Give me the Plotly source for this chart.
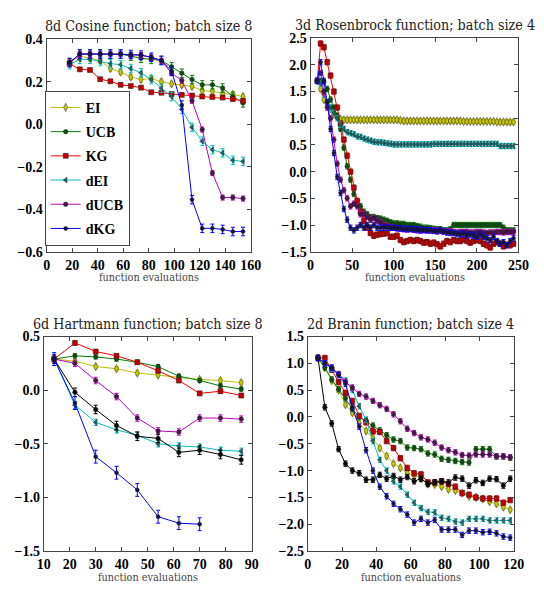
import plotly.graph_objects as go

# ---------------- data ----------------
METHODS = ["EI", "UCB", "KG", "dEI", "dUCB", "dKG"]

# 8d Cosine, batch 8
cos_x = [18, 26, 34, 42, 50, 58, 66, 74, 82, 90, 98, 106, 114, 122, 130, 138, 146, 154]
cos_EI = [0.29, 0.32, 0.31, 0.30, 0.262, 0.245, 0.222, 0.21, 0.215, 0.20, 0.19, 0.185, 0.178, 0.158, 0.155, 0.145, 0.14, 0.13]
cos_UCB = [0.29, 0.33, 0.33, 0.33, 0.33, 0.33, 0.32, 0.31, 0.305, 0.30, 0.27, 0.24, 0.21, 0.185, 0.185, 0.17, 0.13, 0.10]
cos_KG = [0.285, 0.258, 0.255, 0.212, 0.202, 0.185, 0.18, 0.172, 0.15, 0.148, 0.142, 0.138, 0.135, 0.13, 0.128, 0.125, 0.118, 0.11]
cos_dEI = [0.28, 0.305, 0.305, 0.295, 0.285, 0.28, 0.262, 0.242, 0.21, 0.17, 0.13, 0.07, -0.015, -0.08, -0.12, -0.135, -0.17, -0.175]
cos_dUCB = [0.29, 0.33, 0.33, 0.33, 0.33, 0.33, 0.325, 0.325, 0.315, 0.298, 0.24, 0.205, 0.11, -0.025, -0.23, -0.345, -0.345, -0.35]
cos_dKG = [0.29, 0.33, 0.33, 0.33, 0.33, 0.33, 0.328, 0.325, 0.315, 0.30, 0.25, 0.09, -0.355, -0.49, -0.49, -0.495, -0.505, -0.505]
cos_err = [0.012, 0.02, 0.008, 0.02, 0.012, 0.02]

# 3d Rosenbrock, batch 4
ros_x = list(range(8, 245, 4))
ros_EI = [1.70, 1.55, 1.35, 1.28, 1.18, 1.08, 1.02, 0.98, 0.97, 0.97,
          0.97, 0.97, 0.97, 0.97, 0.97, 0.97, 0.97, 0.97, 0.97, 0.97,
          0.97, 0.97, 0.97, 0.97, 0.97, 0.96, 0.95, 0.95, 0.95, 0.95,
          0.95, 0.95, 0.95, 0.95, 0.95, 0.95, 0.95, 0.95, 0.95, 0.95,
          0.95, 0.95, 0.95, 0.95, 0.94, 0.94, 0.94, 0.94, 0.94, 0.94,
          0.94, 0.94, 0.94, 0.94, 0.93, 0.93, 0.93, 0.93, 0.93, 0.93]
ros_UCB = [1.70, 1.70, 1.68, 1.55, 1.35, 1.20, 1.05, 0.80, 0.45, 0.10,
           -0.15, -0.42, -0.55, -0.65, -0.75, -0.80, -0.85, -0.85, -0.87, -0.88,
           -0.90, -0.92, -0.95, -0.97, -0.97, -0.98, -0.98, -1.00, -1.00, -1.00,
           -1.02, -1.03, -1.05, -1.05, -1.06, -1.07, -1.08, -1.08, -1.10, -1.10,
           -1.08, -1.00, -1.00, -1.00, -1.00, -1.00, -1.00, -1.00, -1.00, -1.00,
           -1.00, -1.00, -1.00, -1.00, -1.00, -1.00, -1.05, -1.10, -1.10, -1.10]
ros_KG = [1.70, 2.40, 2.33, 2.05, 1.80, 1.50, 1.20, 0.90, 0.60, 0.30,
          0.00, -0.30, -0.55, -0.75, -0.92, -1.05, -1.15, -1.20, -1.18, -1.17,
          -1.16, -1.15, -1.22, -1.22, -1.20, -1.28, -1.32, -1.30, -1.28, -1.30,
          -1.28, -1.30, -1.33, -1.32, -1.35, -1.33, -1.36, -1.40, -1.35, -1.30,
          -1.32, -1.28, -1.30, -1.30, -1.27, -1.30, -1.33, -1.30, -1.28, -1.30,
          -1.35, -1.38, -1.42, -1.35, -1.32, -1.35, -1.40, -1.37, -1.38, -1.35]
ros_dEI = [1.70, 1.65, 1.45, 1.30, 1.20, 1.10, 1.00, 0.88, 0.80, 0.74,
           0.72, 0.70, 0.66, 0.65, 0.62, 0.60, 0.58, 0.56, 0.55, 0.55,
           0.54, 0.53, 0.52, 0.51, 0.51, 0.51, 0.51, 0.51, 0.51, 0.51,
           0.51, 0.51, 0.51, 0.51, 0.51, 0.52, 0.52, 0.52, 0.52, 0.52,
           0.52, 0.52, 0.52, 0.52, 0.52, 0.52, 0.52, 0.52, 0.52, 0.52,
           0.52, 0.52, 0.52, 0.52, 0.52, 0.48, 0.48, 0.48, 0.48, 0.48]
ros_dUCB = [1.70, 1.85, 1.50, 1.20, 1.00, 0.60, 0.15, -0.15, -0.35, -0.50,
            -0.65, -0.60, -0.65, -0.80, -0.80, -0.85, -0.90, -0.87, -0.92, -0.95,
            -1.00, -1.02, -1.05, -1.05, -1.06, -1.07, -1.08, -1.08, -1.08, -1.09,
            -1.10, -1.10, -1.10, -1.10, -1.10, -1.10, -1.10, -1.11, -1.12, -1.12,
            -1.12, -1.13, -1.14, -1.13, -1.13, -1.13, -1.14, -1.14, -1.13, -1.13,
            -1.14, -1.15, -1.14, -1.14, -1.13, -1.13, -1.14, -1.13, -1.13, -1.13]
ros_dKG = [1.70, 2.05, 1.70, 1.30, 0.80, 0.35, -0.10, -0.40, -0.70, -0.90,
           -1.05, -1.10, -1.05, -1.00, -1.05, -1.00, -1.05, -1.00, -1.05, -1.05,
           -1.05, -1.05, -1.05, -1.05, -1.06, -1.06, -1.07, -1.08, -1.07, -1.08,
           -1.08, -1.10, -1.09, -1.10, -1.10, -1.11, -1.12, -1.10, -1.12, -1.14,
           -1.15, -1.15, -1.17, -1.18, -1.16, -1.20, -1.18, -1.20, -1.22, -1.18,
           -1.22, -1.25, -1.28, -1.22, -1.30, -1.35, -1.32, -1.38, -1.30, -1.25]
ros_err = [0.04, 0.05, 0.05, 0.05, 0.05, 0.05]

# 6d Hartmann, batch 8
har_x = [14, 22, 30, 38, 46, 54, 62, 70, 78, 86]
har_EI = [0.29, 0.27, 0.22, 0.20, 0.16, 0.14, 0.12, 0.10, 0.09, 0.07]
har_UCB = [0.29, 0.32, 0.31, 0.29, 0.26, 0.22, 0.13, 0.09, 0.04, 0.01]
har_KG = [0.29, 0.44, 0.36, 0.32, 0.26, 0.18, 0.09, -0.03, -0.01, -0.05]
har_dEI = [0.29, -0.14, -0.30, -0.37, -0.42, -0.50, -0.52, -0.53, -0.56, -0.57]
har_dUCB = [0.29, 0.25, 0.09, -0.06, -0.26, -0.38, -0.39, -0.26, -0.26, -0.27]
har_dKG = [0.29, -0.12, -0.62, -0.77, -0.93, -1.18, -1.24, -1.25]
har_other = [0.29, -0.02, -0.18, -0.33, -0.43, -0.45, -0.58, -0.56, -0.60, -0.65]
har_err = [0.02, 0.02, 0.02, 0.03, 0.03, 0.06, 0.04]

# 2d Branin, batch 4
bra_x = list(range(6, 119, 4))
bra_EI = [1.10, 0.92, 0.68, 0.50, 0.23, 0.08, -0.12, -0.26, -0.40, -0.58,
          -0.73, -0.87, -0.95, -1.05, -1.08, -1.15, -1.25, -1.26, -1.30, -1.35,
          -1.37, -1.42, -1.48, -1.50, -1.53, -1.58, -1.62, -1.68, -1.73]
bra_UCB = [1.10, 0.92, 0.70, 0.52, 0.35, 0.15, 0.00, -0.08, -0.16, -0.25,
           -0.34, -0.42, -0.45, -0.57, -0.58, -0.60, -0.68, -0.70, -0.78, -0.80,
           -0.82, -0.84, -0.85, -0.60, -0.60, -0.60, -0.74, -0.74, -0.76]
bra_KG = [1.10, 1.10, 0.88, 0.65, 0.45, 0.30, 0.02, -0.10, -0.27, -0.28,
          -0.45, -0.58, -0.77, -0.95, -1.05, -1.07, -1.22, -1.22, -1.20, -1.25,
          -1.30, -1.42, -1.45, -1.50, -1.52, -1.52, -1.52, -1.60, -1.55]
bra_dEI = [1.10, 1.00, 0.90, 0.80, 0.68, 0.50, 0.20, -0.05, -0.45, -0.80,
           -1.00, -1.20, -1.30, -1.45, -1.60, -1.70, -1.77, -1.78, -1.88, -1.90,
           -1.95, -1.97, -1.90, -1.90, -1.90, -1.93, -1.93, -1.93, -1.93]
bra_dUCB = [1.10, 1.00, 0.92, 0.80, 0.65, 0.55, 0.43, 0.38, 0.30, 0.22,
            0.15, 0.05, -0.08, -0.22, -0.30, -0.38, -0.42, -0.48, -0.57, -0.62,
            -0.66, -0.71, -0.72, -0.70, -0.70, -0.70, -0.73, -0.73, -0.75]
bra_dKG = [1.10, 1.00, 0.92, 0.78, 0.62, 0.18, -0.18, -0.62, -1.00, -1.30,
           -1.48, -1.62, -1.72, -1.82, -1.97, -1.90, -1.97, -1.92, -2.10, -2.10,
           -2.10, -2.20, -2.12, -2.12, -2.15, -2.14, -2.17, -2.23, -2.25]
bra_other = [1.10, 0.18, -0.12, -0.60, -0.87, -1.00, -1.05, -1.17, -1.17, -1.08,
             -1.15, -1.10, -1.17, -1.12, -1.20, -1.15, -1.25, -1.22, -1.20, -1.22,
             -1.13, -1.15, -1.28, -1.18, -1.23, -1.15, -1.16, -1.28, -1.15]
bra_err = [0.04, 0.05, 0.05, 0.05, 0.05, 0.05, 0.05]

TITLES = ["8d Cosine function; batch size 8", "3d Rosenbrock function; batch size 4",
          "6d Hartmann function; batch size 8", "2d Branin function; batch size 4"]

# ---------------- styles ----------------
LINE_COL = {"EI": "#bfbf00", "UCB": "#008000", "KG": "#ff0000", "dEI": "#00bfbf",
            "dUCB": "#bf00bf", "dKG": "#0000ff", "other": "#000000"}
MK_COL = {"EI": "#c8c800", "UCB": "#0a500a", "KG": "#c00000", "dEI": "#107070",
          "dUCB": "#501050", "dKG": "#101050", "other": "#000000"}
MK_SYM = {"EI": "diamond-tall", "UCB": "circle", "KG": "square", "dEI": "triangle-left",
          "dUCB": "circle", "dKG": "circle", "other": "circle"}
MK_SIZE = {"EI": 6, "UCB": 4.5, "KG": 5, "dEI": 5, "dUCB": 4.5, "dKG": 4, "other": 4.5}

W, H = 544, 599
boxes = [(41, 252, 33, 251), (314, 529, 32, 251), (38, 253, 338, 558), (311, 524, 338, 558)]

fig = go.Figure()

panels = [
    (cos_x, [cos_EI, cos_UCB, cos_KG, cos_dEI, cos_dUCB, cos_dKG], METHODS, cos_err),
    (ros_x, [ros_EI, ros_UCB, ros_KG, ros_dEI, ros_dUCB, ros_dKG], METHODS, ros_err),
    (har_x, [har_EI, har_UCB, har_KG, har_dEI, har_dUCB, har_other, har_dKG],
     METHODS[:5] + ["other", "dKG"], [har_err[0], har_err[1], har_err[2], har_err[3], har_err[4], har_err[6], har_err[5]]),
    (bra_x, [bra_EI, bra_UCB, bra_KG, bra_dEI, bra_dUCB, bra_other, bra_dKG],
     METHODS[:5] + ["other", "dKG"], [bra_err[0], bra_err[1], bra_err[2], bra_err[3], bra_err[4], bra_err[6], bra_err[5]]),
]

for i, (xs, series, names, errs) in enumerate(panels):
    ax = "" if i == 0 else str(i + 1)
    for ys, name, e in zip(series, names, errs):
        fig.add_trace(go.Scatter(
            x=xs[:len(ys)], y=ys, mode="lines+markers", name=name,
            xaxis="x" + ax, yaxis="y" + ax,
            showlegend=(i == 0), legendgroup=name,
            line=dict(color=LINE_COL[name], width=1),
            marker=dict(symbol=MK_SYM[name], size=MK_SIZE[name], color=MK_COL[name],
                        line=dict(color="#222222", width=0.5)),
            error_y=dict(type="constant", value=e, color=LINE_COL[name], thickness=1, width=2),
        ))

tickfont = dict(family="Liberation Serif", size=14, color="black", weight="bold")
xranges = [(0, 160, 20), (0, 250, 50), (10, 90, 10), (0, 120, 20)]
yranges = [(-0.6, 0.4, 0.2), (-1.5, 2.5, 0.5), (-1.5, 0.5, 0.5), (-2.5, 1.5, 0.5)]

layout = dict(width=W, height=H, margin=dict(l=0, r=0, t=0, b=0),
              paper_bgcolor="white", plot_bgcolor="white")
annotations = []
for i, (x0, x1, y0, y1) in enumerate(boxes):
    ax = "" if i == 0 else str(i + 1)
    xr, yr = xranges[i], yranges[i]
    common = dict(showgrid=False, zeroline=False, showline=True, linecolor="#444444", linewidth=1,
                  mirror="allticks", ticks="inside", ticklen=4, tickcolor="#444444", tickfont=tickfont,
                  tickangle=0)
    layout["xaxis" + ax] = dict(domain=[x0 / W, x1 / W], range=[xr[0], xr[1]], dtick=xr[2], tick0=0,
                                anchor="y" + ax, ticklabelstandoff=0, **common)
    layout["yaxis" + ax] = dict(domain=[1 - y1 / H, 1 - y0 / H], range=[yr[0], yr[1]], dtick=yr[2], tick0=0,
                                tickformat=".1f", anchor="x" + ax, ticklabelstandoff=0, **common)
    annotations.append(dict(text=TITLES[i], xref="paper", yref="paper", x=(x0 + x1) / 2 / W,
                            y=1 - (y0 - 3) / H, xanchor="center", yanchor="bottom", showarrow=False,
                            font=dict(family="DejaVu Serif Condensed", size=14.2, color="#222222")))
    annotations.append(dict(text="function evaluations", xref="paper", yref="paper", x=(x0 + x1) / 2 / W,
                            y=1 - (y1 + 18) / H, xanchor="center", yanchor="top", showarrow=False,
                            font=dict(family="DejaVu Serif Condensed", size=10.8, color="#444444")))
layout["annotations"] = annotations
layout["legend"] = dict(x=39 / W, y=1 - 86 / H, xanchor="left", yanchor="top",
                        bordercolor="#444444", borderwidth=1, bgcolor="white",
                        font=dict(family="Liberation Serif", size=14, color="black", weight="bold"),
                        tracegroupgap=3, itemwidth=30)
fig.update_layout(**layout)
fig.write_html("out.html")
